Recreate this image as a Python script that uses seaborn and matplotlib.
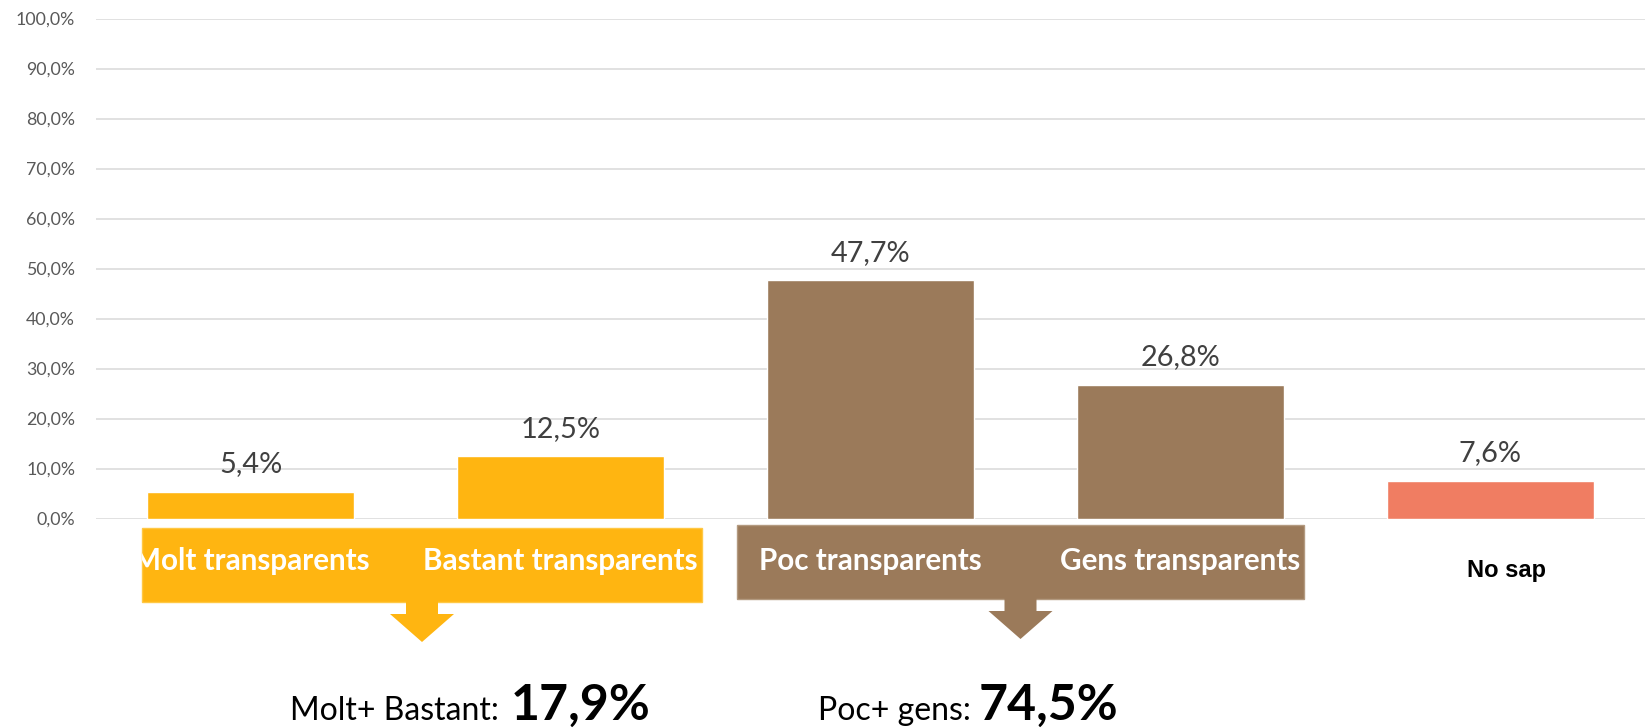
import numpy as np
import pandas as pd
import matplotlib
matplotlib.use("Agg")
import matplotlib.pyplot as plt
import seaborn as sns
from matplotlib.patches import Rectangle, Polygon
from matplotlib.ticker import FuncFormatter, FixedLocator

# ---------------- data ----------------
categories = ["Molt transparents", "Bastant transparents", "Poc transparents",
              "Gens transparents", "No sap"]
values = [5.4, 12.5, 47.7, 26.8, 7.6]
groups = ["positive", "positive", "negative", "negative", "unknown"]
group_colors = {"positive": "#FFB511", "negative": "#9B7A5A", "unknown": "#F07D62"}
summary_groups = ["positive", "negative"]
summary_prefixes = ["Molt+ Bastant: ", "Poc+ gens: "]
yticks = list(range(0, 101, 10))

# ---------------- style ----------------
sns.set_theme(style="white")
plt.rcParams["font.family"] = ["Lato", "DejaVu Sans"]

W, H, DPI = 1646, 728, 100
fig = plt.figure(figsize=(W / DPI, H / DPI), dpi=DPI)
fig.patch.set_facecolor("white")

ax_left, ax_right, ax_bottom, ax_top = 96, 1645, 518.5, 18.5
ax = fig.add_axes([ax_left / W, 1 - ax_bottom / H, (ax_right - ax_left) / W,
                   (ax_bottom - ax_top) / H])

df = pd.DataFrame({"cat": categories, "val": values, "grp": groups})
sns.barplot(data=df, x="cat", y="val", hue="grp", palette=group_colors,
            dodge=False, width=0.668, saturation=1, legend=False, ax=ax,
            order=categories)

ax.set_xlim(-0.5, len(categories) - 0.5)
ax.set_ylim(0, 100)
ax.yaxis.set_major_locator(FixedLocator(yticks))
ax.yaxis.set_major_formatter(FuncFormatter(lambda v, p: f"{v:.1f}%".replace(".", ",")))
ax.yaxis.grid(True, color="#D9D9D9", linewidth=1.1)
ax.set_axisbelow(True)
for s in ax.spines.values():
    s.set_visible(False)
ax.tick_params(axis="y", length=0, pad=15, labelsize=12.8, labelcolor="#595959")
ax.tick_params(axis="x", length=0, labelbottom=False)
ax.set_xlabel("")
ax.set_ylabel("")

# data labels
for i, v in enumerate(values):
    ax.annotate(f"{v:.1f}%".replace(".", ","), (i, v), xytext=(0, 14),
                textcoords="offset points", ha="center", va="baseline",
                fontsize=20.8, color="#404040", annotation_clip=False)

# ---------------- overlay (category boxes, arrows, summaries) ----------------
ov = fig.add_axes([0, 0, 1, 1], zorder=5)
ov.set_xlim(0, W)
ov.set_ylim(H, 0)
ov.axis("off")
ov.patch.set_alpha(0)

box_layout = {"positive": (142, 528, 702, 602), "negative": (737, 525, 1304, 599)}
edge_colors = {"positive": "#FFC845", "negative": "#B39A80"}
rects = {}
for g, (x0, y0, x1, y1) in box_layout.items():
    c = group_colors[g]
    r = Rectangle((x0, y0), x1 - x0, y1 - y0, facecolor=c,
                  edgecolor=edge_colors[g], linewidth=1.0)
    ov.add_patch(r)
    rects[g] = r
    cx = (x0 + x1) / 2
    arrow = Polygon([(cx - 16, y1 - 1), (cx + 16, y1 - 1), (cx + 16, y1 + 12),
                     (cx + 32, y1 + 12), (cx, y1 + 40), (cx - 32, y1 + 12),
                     (cx - 16, y1 + 12)], closed=True, facecolor=c, edgecolor="none")
    ov.add_patch(arrow)

def cat_px(i):
    return ax.transData.transform((i, 0))[0]

for i, (cat, g) in enumerate(zip(categories, groups)):
    if g in rects:
        t = ov.text(cat_px(i), 570, cat, ha="center", va="baseline", color="white",
                    fontsize=21.3, fontweight="bold")
        t.set_clip_path(rects[g])
        t.set_clip_on(True)
    else:
        ov.text(cat_px(i) + 16, 577, cat, ha="center", va="baseline", color="black",
                fontsize=17, fontweight="bold",
                family=["Liberation Sans", "DejaVu Sans"])

summary_layout = {"positive": (499, 511), "negative": (971, 979)}
for g, prefix in zip(summary_groups, summary_prefixes):
    total = sum(v for v, gg in zip(values, groups) if gg == g)
    xr, xl = summary_layout[g]
    ov.text(xr, 720, prefix.strip(), ha="right", va="baseline", color="black",
            fontsize=23)
    ov.text(xl, 720, f"{total:.1f}%".replace(".", ","), ha="left", va="baseline",
            color="black", fontsize=36, fontweight="bold")

fig.savefig("out.png", dpi=DPI, facecolor="white")
